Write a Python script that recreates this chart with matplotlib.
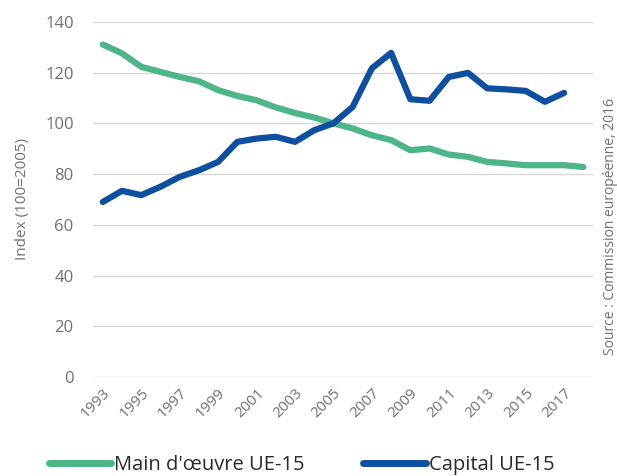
import matplotlib
matplotlib.use("Agg")
import matplotlib.pyplot as plt

years = list(range(1993, 2019))
labour = [131.1, 127.6, 122.3, 120.3, 118.3, 116.6, 113.1, 110.8, 109.1, 106.3,
          104.1, 102.3, 100.0, 98.0, 95.3, 93.4, 89.4, 90.1, 87.7, 86.8,
          84.8, 84.2, 83.5, 83.5, 83.5, 82.8]
capital = [69.0, 73.4, 71.7, 75.0, 78.9, 81.5, 84.8, 92.7, 94.0, 94.7,
           92.7, 97.3, 100.0, 106.5, 121.7, 127.8, 109.5, 108.9, 118.3, 119.9,
           113.8, 113.4, 112.8, 108.5, 112.0]
tick_years = [str(y) for y in range(1993, 2018, 2)]
yticks = [0, 20, 40, 60, 80, 100, 120, 140]

GREEN = "#4db587"
BLUE = "#0e4fa0"
GREY = "#707070"

plt.rcParams["font.family"] = ["Open Sans", "DejaVu Sans"]

fig = plt.figure(figsize=(6.17, 4.76), dpi=100)
ax = fig.add_axes([0.151, 0.208, 0.81, 0.746])

x = list(range(len(years)))
ax.plot(x, labour, color=GREEN, lw=4.5, solid_capstyle="round",
        solid_joinstyle="round", label="Main d'œuvre UE-15")
ax.plot(x[:len(capital)], capital, color=BLUE, lw=4.5, solid_capstyle="round",
        solid_joinstyle="round", label="Capital UE-15")

ax.set_xlim(-0.5, len(years) - 0.5)
ax.set_ylim(0, 140)
ax.set_yticks(yticks)
ax.set_xticks([years.index(int(t)) for t in tick_years])
ax.set_xticklabels(tick_years, rotation=45, ha="right", va="top",
                   rotation_mode="anchor")
ax.tick_params(length=0, colors=GREY, labelsize=11, pad=6)
ax.tick_params(axis="y", labelsize=12, pad=14)
ax.grid(axis="y", color="#d9d9d9", lw=1)
ax.set_axisbelow(True)
for s in ax.spines.values():
    s.set_visible(False)
ax.set_ylabel("Index (100=2005)", color=GREY, fontsize=11, labelpad=11)

fig.text(0.99, 0.525, "Source : Commission européenne, 2016", rotation=90,
         ha="center", va="center", color=GREY, fontsize=10)

leg = fig.legend(loc="center", bbox_to_anchor=(0.489, 0.024), ncol=2,
                 frameon=False, fontsize=14.5, handlelength=3.1,
                 columnspacing=2.9, handletextpad=0.15, labelcolor="#2a2a2a")
for h in leg.get_lines():
    h.set_linewidth(5)

fig.savefig("out.png", dpi=100)
